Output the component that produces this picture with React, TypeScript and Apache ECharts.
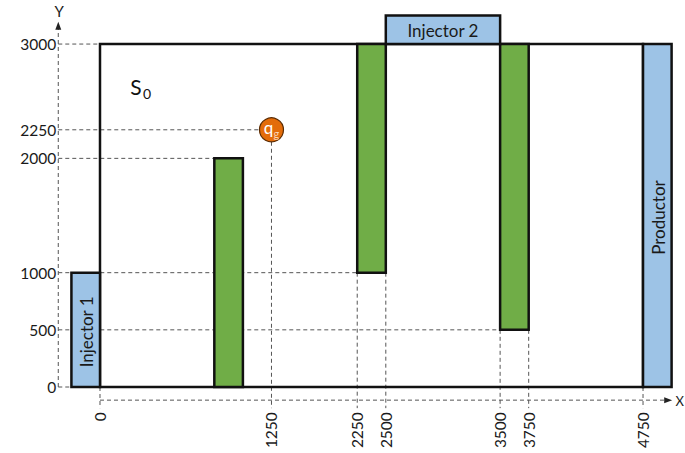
import React, { useEffect, useRef } from "react";
import * as echarts from "echarts";

// Reservoir outline [x0, x1, y0, y1]
const reservoir = [0, 4750, 0, 3000];

// Wells (blue boxes)
const wellNames = ["Injector 1", "Injector 2", "Productor"];
const wellX0 = [-250, 2500, 4750];
const wellX1 = [0, 3500, 5000];
const wellY0 = [0, 3000, 0];
const wellY1 = [1000, 3250, 3000];
const wellVertical = [true, false, true];

// Green barriers
const barX0 = [1000, 2250, 3500];
const barX1 = [1250, 2500, 3750];
const barY0 = [0, 1000, 500];
const barY1 = [2000, 3000, 3000];

// Gas injection point
const gasWell = [1500, 2250];

// Y ticks and where their guide lines end
const yTicks = [0, 500, 1000, 2000, 2250, 3000];
const yGuideEnd = [-250, 3500, 2250, 1000, 1500, 0];

// X ticks (positions in drawing), labels and where their guides start
const xTickPos = [0, 1500, 2250, 2500, 3500, 3750, 4750];
const xTickLabels = ["0", "1250", "2250", "2500", "3500", "3750", "4750"];
const xGuideStart = [0, 2250, 1000, 1000, 500, 500, 0];

const yAxisX = -365;
const xAxisY = -115;
const guideBottom = -185;
const yAxisTop = 3195;
const xAxisRight = 5005;

const FONT = 'Lato, "Open Sans", "Noto Sans", sans-serif';

export default function App() {
  const ref = useRef<HTMLDivElement>(null);
  useEffect(() => {
    if (!ref.current) return;
    const chart = echarts.init(ref.current, undefined, { renderer: "svg" });
    const dashStyle = { stroke: "#555", lineWidth: 1, lineDash: [4, 3] };
    const boxStroke = "#111";

    const renderItem = (params: any, api: any) => {
      const c = (x: number, y: number) => api.coord([x, y]);
      const children: any[] = [];
      const gasPx = c(gasWell[0], gasWell[1]);
      const gasR = 12;

      // y guides
      yTicks.forEach((v, i) => {
        const a = c(yAxisX, v);
        const b = c(yGuideEnd[i], v);
        let bx = b[0];
        if (v === gasWell[1] && yGuideEnd[i] === gasWell[0]) bx = gasPx[0] - gasR;
        children.push({ type: "line", shape: { x1: a[0], y1: a[1], x2: bx, y2: a[1] }, style: dashStyle });
        children.push({
          type: "text",
          x: a[0] - 2,
          y: a[1],
          style: { text: String(v), fill: "#1a1a1a", font: `15.5px ${FONT}`, align: "right", verticalAlign: "middle" },
        });
      });
      // x guides
      xTickPos.forEach((v, i) => {
        const a = c(v, xGuideStart[i]);
        let ay = a[1];
        if (v === gasWell[0] && xGuideStart[i] === gasWell[1]) ay = gasPx[1] + gasR;
        const b = c(v, guideBottom);
        children.push({ type: "line", shape: { x1: a[0], y1: ay, x2: a[0], y2: b[1] }, style: dashStyle });
        children.push({
          type: "text",
          x: a[0],
          y: b[1] + 4,
          rotation: Math.PI / 2,
          style: { text: xTickLabels[i], fill: "#1a1a1a", font: `15.5px ${FONT}`, align: "right", verticalAlign: "middle" },
        });
      });
      // axes
      const ya0 = c(yAxisX, 0);
      const ya1 = c(yAxisX, yAxisTop);
      children.push({ type: "line", shape: { x1: ya0[0], y1: ya0[1], x2: ya1[0], y2: ya1[1] + 4 }, style: dashStyle });
      children.push({
        type: "polygon",
        shape: { points: [[ya1[0], ya1[1]], [ya1[0] - 3, ya1[1] + 8], [ya1[0] + 3, ya1[1] + 8]] },
        style: { fill: "#222" },
      });
      children.push({
        type: "text",
        x: ya1[0] + 1,
        y: ya1[1] - 11,
        style: { text: "Y", fill: "#1a1a1a", font: `15px ${FONT}`, align: "center", verticalAlign: "middle" },
      });
      const xa0 = c(0, xAxisY);
      const xa1 = c(xAxisRight, xAxisY);
      children.push({ type: "line", shape: { x1: xa0[0], y1: xa0[1], x2: xa1[0] - 4, y2: xa1[1] }, style: dashStyle });
      children.push({
        type: "polygon",
        shape: { points: [[xa1[0], xa1[1]], [xa1[0] - 8, xa1[1] - 3], [xa1[0] - 8, xa1[1] + 3]] },
        style: { fill: "#222" },
      });
      children.push({
        type: "text",
        x: 684,
        y: xa1[1] + 1,
        style: { text: "X", fill: "#1a1a1a", font: `13px ${FONT}`, align: "right", verticalAlign: "middle" },
      });

      // reservoir outline
      const r0 = c(reservoir[0], reservoir[3]);
      const r1 = c(reservoir[1], reservoir[2]);
      children.push({
        type: "rect",
        shape: { x: r0[0], y: r0[1], width: r1[0] - r0[0], height: r1[1] - r0[1] },
        style: { fill: "none", stroke: boxStroke, lineWidth: 2.5 },
      });

      // barriers
      barX0.forEach((x0, i) => {
        const p0 = c(x0, barY1[i]);
        const p1 = c(barX1[i], barY0[i]);
        children.push({
          type: "rect",
          shape: { x: p0[0], y: p0[1], width: p1[0] - p0[0], height: p1[1] - p0[1] },
          style: { fill: "#70AD47", stroke: boxStroke, lineWidth: 2.5 },
        });
      });

      // wells
      wellNames.forEach((name, i) => {
        const p0 = c(wellX0[i], wellY1[i]);
        const p1 = c(wellX1[i], wellY0[i]);
        children.push({
          type: "rect",
          shape: { x: p0[0], y: p0[1], width: p1[0] - p0[0], height: p1[1] - p0[1] },
          style: { fill: "#9DC3E6", stroke: boxStroke, lineWidth: 2.5 },
        });
        const cx = (p0[0] + p1[0]) / 2;
        const cy = (p0[1] + p1[1]) / 2;
        children.push({
          type: "text",
          x: cx + (wellVertical[i] ? 1 : 0),
          y: cy + (wellVertical[i] ? 2 : 1),
          rotation: wellVertical[i] ? Math.PI / 2 : 0,
          style: { text: name, fill: "#1a1a1a", font: `17px ${FONT}`, align: "center", verticalAlign: "middle" },
        });
      });

      // S0 label
      const s = c(350, 2625);
      children.push({
        type: "text",
        x: s[0] - 4,
        y: s[1],
        style: { text: "S", fill: "#111", font: `21px ${FONT}`, align: "center", verticalAlign: "middle" },
      });
      children.push({
        type: "text",
        x: s[0] + 7,
        y: s[1] + 7,
        style: { text: "0", fill: "#111", font: `14px ${FONT}`, align: "center", verticalAlign: "middle" },
      });

      // gas well
      children.push({
        type: "circle",
        shape: { cx: gasPx[0], cy: gasPx[1], r: gasR },
        style: { fill: "#E36C0A", stroke: "#5a2a00", lineWidth: 1.2 },
      });
      children.push({
        type: "text",
        x: gasPx[0] - 3,
        y: gasPx[1] - 2,
        style: { text: "q", fill: "#ffffff", font: `17px ${FONT}`, align: "center", verticalAlign: "middle" },
      });
      children.push({
        type: "text",
        x: gasPx[0] + 5,
        y: gasPx[1] + 4,
        style: { text: "g", fill: "#FBD5B5", font: `11px ${FONT}`, align: "center", verticalAlign: "middle" },
      });

      return { type: "group", children };
    };

    chart.setOption({
      animation: false,
      backgroundColor: "#ffffff",
      grid: { left: 57.13, right: 1.97, top: 4.04, bottom: 8.84 },
      xAxis: { type: "value", min: -375, max: 5100, show: false },
      yAxis: { type: "value", min: -500, max: 3350, show: false },
      series: [
        {
          type: "custom",
          clip: false,
          silent: true,
          renderItem,
          data: [[0, 0]],
        },
      ],
    });
    return () => chart.dispose();
  }, []);
  return (
    <div
      ref={ref}
      style={{ position: "absolute", left: 0, top: 0, width: 685, height: 453, background: "#fff" }}
    />
  );
}
